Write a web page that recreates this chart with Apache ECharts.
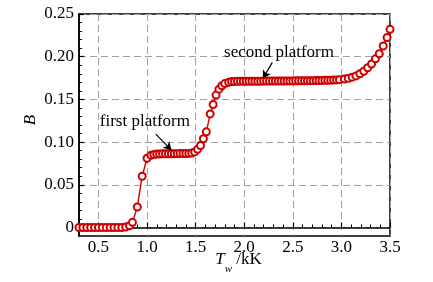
<!DOCTYPE html>
<html>
<head>
<meta charset="utf-8">
<script src="https://cdn.jsdelivr.net/npm/echarts@6/dist/echarts.min.js"></script>
<style>html,body{margin:0;padding:0;background:#fff;}#c{width:433px;height:282px;}</style>
</head>
<body>
<div id="c"></div>
<script>
// Wall temperature Tw (kK)
const tw = [0.30,0.34,0.38,0.42,0.46,0.50,0.54,0.58,0.62,0.66,0.70,0.74,0.78,0.82,0.85,0.90,0.95,1.00,1.04,1.07,
  1.10,1.13,1.16,1.19,1.22,1.25,1.28,1.31,1.34,1.37,1.40,1.43,1.46,1.49,1.52,1.55,1.58,1.61,1.65,1.68,1.71,1.74,1.77,1.80,1.84,1.87,
  1.90,1.93,1.96,1.99,2.02,2.05,2.08,2.11,2.14,2.17,2.20,2.23,2.26,2.29,2.32,2.35,2.38,2.41,2.44,2.47,2.50,2.53,2.56,2.59,2.62,2.65,2.68,2.71,2.74,2.77,2.80,2.83,2.86,2.89,2.92,2.95,2.98,
  3.03,3.07,3.11,3.15,3.19,3.23,3.27,3.31,3.35,3.39,3.43,3.47,3.50];
// Blowing parameter B
const bVals = [0,0,0,0,0,0,0,0,0,0,0,0,0.0005,0.002,0.006,0.024,0.060,0.081,0.0845,0.0855,
  0.0860,0.0861,0.0862,0.0862,0.0863,0.0863,0.0864,0.0864,0.0865,0.0865,0.0866,0.0867,0.0872,0.0885,0.0915,0.0960,0.104,0.112,0.133,0.144,0.155,0.162,0.166,0.1685,0.1700,0.1708,
  0.1710,0.1711,0.1711,0.1712,0.1712,0.1712,0.1713,0.1713,0.1713,0.1713,0.1714,0.1714,0.1714,0.1714,0.1715,0.1715,0.1715,0.1715,0.1716,0.1716,0.1716,0.1717,0.1717,0.1717,0.1718,0.1718,0.1719,0.1719,0.1720,0.1721,0.1722,0.1723,0.1724,0.1725,0.1726,0.1728,0.1731,
  0.1738,0.1748,0.1760,0.1775,0.1800,0.1830,0.1870,0.1915,0.1975,0.2035,0.2125,0.2225,0.2320];
const xTicks = [0.5,1.0,1.5,2.0,2.5,3.0,3.5];
const xMinor = [0.4,0.6,0.7,0.8,0.9,1.1,1.2,1.3,1.4,1.6,1.7,1.8,1.9,2.1,2.2,2.3,2.4,2.6,2.7,2.8,2.9,3.1,3.2,3.3,3.4];
const yTicks = [0,0.05,0.10,0.15,0.20,0.25];
const yMinor = [0.01,0.02,0.03,0.04,0.06,0.07,0.08,0.09,0.11,0.12,0.13,0.14,0.16,0.17,0.18,0.19,0.21,0.22,0.23,0.24];
const notes = [
  {text:'first platform', at:[0.978,0.1244], from:[1.09,0.1093], to:[1.252,0.0905]},
  {text:'second platform', at:[2.358,0.205], from:[2.289,0.1934], to:[2.192,0.1745]}
];

const FONT = 'Liberation Serif';
const chart = echarts.init(document.getElementById('c'));
const xBase = {type:'value', min:0.3, max:3.5, gridIndex:0};
const yBase = {type:'value', min:-0.01, max:0.25, gridIndex:0};
chart.setOption({
  animation:false,
  backgroundColor:'#fff',
  grid:{left:79, top:14, right:43, bottom:46, show:true, borderColor:'#000', borderWidth:1.5,
    backgroundColor:'transparent', containLabel:false, outerBoundsMode:'none'},
  xAxis:[
    Object.assign({}, xBase, {
      position:'bottom',
      axisLine:{show:true, lineStyle:{color:'#000', width:1.5}},
      axisTick:{show:true, inside:true, length:5, customValues:xTicks, lineStyle:{color:'#000', width:1.2}},
      axisLabel:{show:true, customValues:xTicks, margin:3, color:'#000', fontFamily:FONT, fontSize:17,
        formatter:v=>v.toFixed(1)},
      splitLine:{show:true, lineStyle:{color:'#a0a0a0', width:1, type:[7,4]}},
      name:'{t|T}{s|w}{k| /kK}', nameLocation:'middle', nameGap:9, nameMoveOverlap:false,
      nameTextStyle:{padding:[0,0,0,8], rich:{
        t:{fontFamily:FONT, fontStyle:'italic', fontSize:17, color:'#000', lineHeight:30, verticalAlign:'middle'},
        s:{fontFamily:FONT, fontStyle:'italic', fontSize:11, color:'#000', lineHeight:11, verticalAlign:'bottom'},
        k:{fontFamily:FONT, fontSize:17, color:'#000', lineHeight:30, verticalAlign:'middle'}
      }}
    }),
    Object.assign({}, xBase, {
      position:'bottom', axisLine:{show:false}, axisLabel:{show:false}, splitLine:{show:false},
      axisTick:{show:true, inside:true, length:3, customValues:xMinor, lineStyle:{color:'#000', width:1}}
    })
  ],
  yAxis:[
    Object.assign({}, yBase, {
      position:'left',
      axisLine:{show:true, lineStyle:{color:'#000', width:1.5}},
      axisTick:{show:true, inside:true, length:5, customValues:yTicks, lineStyle:{color:'#000', width:1.2}},
      axisLabel:{show:true, customValues:yTicks, margin:5, color:'#000', fontFamily:FONT, fontSize:17,
        formatter:v=>v===0?'0':v.toFixed(2)},
      splitLine:{show:true, lineStyle:{color:'#a0a0a0', width:1, type:[7,4]}},
      name:'B', nameLocation:'middle', nameGap:40, nameRotate:90, nameMoveOverlap:false,
      nameTextStyle:{fontFamily:FONT, fontStyle:'italic', fontSize:17, color:'#000', padding:[0,0,0,10]}
    }),
    Object.assign({}, yBase, {
      position:'left', axisLine:{show:false}, axisLabel:{show:false}, splitLine:{show:false},
      axisTick:{show:true, inside:true, length:3, customValues:yMinor, lineStyle:{color:'#000', width:1}}
    })
  ],
  series:[{
    type:'line',
    xAxisIndex:0, yAxisIndex:0,
    data: tw.map((x,i)=>[x,bVals[i]]),
    symbol:'emptyCircle', symbolSize:7, showSymbol:true,
    lineStyle:{color:'#cc0000', width:1.4},
    itemStyle:{color:'#cc0000', borderColor:'#cc0000', borderWidth:1.2},
    z:3,
    markPoint:{
      symbol:'circle', symbolSize:0, silent:true, z:6,
      data: notes.map(n=>({coord:n.at, value:n.text,
        label:{show:true, position:'inside', formatter:n.text, color:'#000', fontFamily:FONT, fontSize:17}}))
    },
    markLine:{
      silent:true, symbol:['none','arrow'], symbolSize:[7,8], z:6,
      label:{show:false},
      lineStyle:{color:'#000', width:1.2, type:'solid'},
      data: notes.map(n=>[{coord:n.from},{coord:n.to}])
    }
  }]
});
</script>
</body>
</html>
